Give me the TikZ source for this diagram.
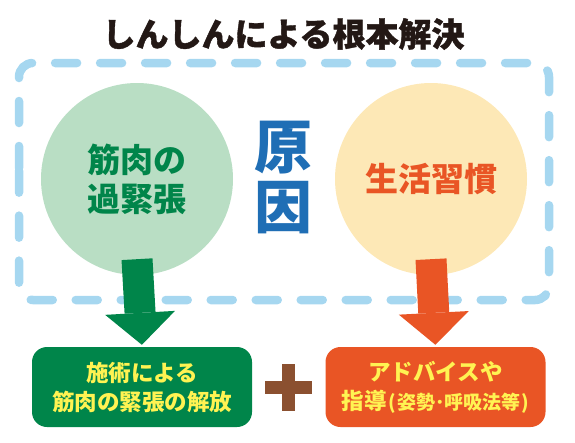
\documentclass[tikz,border=0pt]{standalone}
\usepackage{fontspec}
\newfontfamily\jpfont{Noto Sans CJK JP}
\usetikzlibrary{arrows.meta, positioning}
\usepackage{xcolor}
\definecolor{titleblack}{HTML}{231815}
\definecolor{skyline}{HTML}{A6D7F0}
\definecolor{mintfill}{HTML}{B9DEC4}
\definecolor{creamfill}{HTML}{FDE8B6}
\definecolor{deepgreen}{HTML}{00854A}
\definecolor{vermilion}{HTML}{E95525}
\definecolor{causeblue}{HTML}{1F6EB5}
\definecolor{plusbrown}{HTML}{8B5030}
\definecolor{lemon}{HTML}{FFF352}

\begin{document}
\begin{tikzpicture}[
  x=1pt, y=-1pt,
  font=\jpfont\bfseries,
  cause/.style={circle, minimum size=192pt, inner sep=0pt, align=center, font=\jpfont\bfseries\fontsize{33}{39}\selectfont},
  result/.style={rounded corners=15pt, minimum width=220pt, minimum height=80pt, inner sep=0pt, align=center, text=lemon, font=\jpfont\bfseries\fontsize{22.5}{29}\selectfont},
  causeline/.style={draw=skyline, line width=8.5pt, line cap=round, dash pattern=on 22pt off 23pt, rounded corners=14pt},
  downarrow/.style={draw=#1, line width=31pt, -{Triangle[length=32pt, width=70pt, line width=0pt]}, shorten >=2pt},
  plusbar/.style={draw=plusbrown, line width=13pt}
]
\useasboundingbox (0,0) rectangle (575,442);

% 見出し
\node[text=titleblack, font=\jpfont\bfseries\addfontfeatures{FakeBold=1.2}\fontsize{33}{33}\selectfont] (title) at (283.5,34) {しんしんによる根本解決};

% 原因の枠
\draw[causeline] (19,182) -- (19,63) -- (549,63) -- (549,300) -- (19,300) -- cycle;

% 原因（2つの円）
\node[cause, fill=mintfill, text=deepgreen] (muscle) at (137,179) {筋肉の\\過緊張};
\node[cause, fill=creamfill, text=vermilion] (habit) at (431,179) {生活習慣};
\node[text=causeblue, align=center, font=\jpfont\bfseries\fontsize{58}{60}\selectfont] (causeword) at (283.5,177) {原\\因};

% 解決（下の2つの箱）
\node[result, fill=deepgreen] (treat) at (142,387) {施術による\\筋肉の緊張の解放};
\node[result, fill=vermilion] (advice) at (435.5,387) {アドバイスや\\指導\hspace{2pt}{\fontsize{19}{29}\selectfont(\hspace{1pt}姿勢･呼吸法等\hspace{1pt})}};

% 矢印
\draw[downarrow=deepgreen] ([yshift=16pt]muscle.south) -- (treat.north);
\draw[downarrow=vermilion] ([yshift=16pt]habit.south) -- (advice.north);

% プラス
\coordinate (plus) at (288.5,387.5);
\draw[plusbar] (plus) ++(-23.5,0) -- ++(47,0);
\draw[plusbar] (plus) ++(0,-23.5) -- ++(0,47);
\end{tikzpicture}
\end{document}
